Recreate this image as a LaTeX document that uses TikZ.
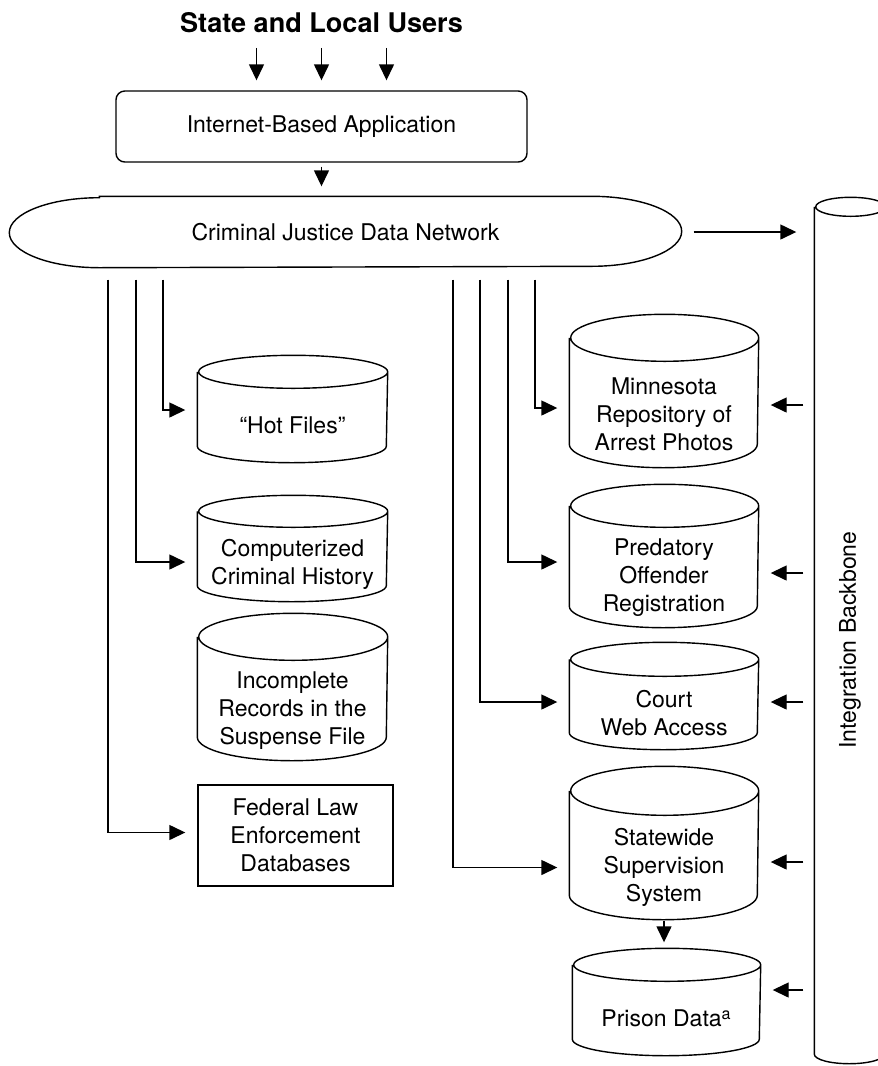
\documentclass[tikz,border=0pt]{standalone}
\usepackage{fontspec}
\setmainfont{TeX Gyre Heros}
\usetikzlibrary{arrows.meta}

% cylinder drawn round a node: #1 node, #2 x radius, #3 cap radius
\newcommand\dbshape[3]{%
  \draw ([yshift=#3]#1.north west) -- ([yshift=#3]#1.south west)
    arc[start angle=180, end angle=360, x radius=#2, y radius=#3]
    -- ([yshift=#3]#1.north east)
    arc[start angle=0, end angle=360, x radius=#2, y radius=#3];
}

\begin{document}
\begin{tikzpicture}[
 every node/.style={font=\fontsize{13.1}{15.8}\selectfont, align=center},
 line width=0.8pt,
 box/.style={rectangle, draw, inner sep=2pt},
 appbox/.style={box, rounded corners=5pt, minimum width=8.22cm, minimum height=1.42cm},
 db/.style={rectangle, inner sep=2pt, minimum width=3.78cm},
 arr/.style={->, >={Triangle[length=0.32cm, width=0.3cm]}, shorten >=0.24cm},
 feed/.style={arr, shorten <=0.24cm},
]
\useasboundingbox (0,0) rectangle (17.54,-21.32);

% users and entry point
\node[font=\fontsize{15.4}{18}\selectfont\bfseries, inner sep=0pt] (users) at (6.43,-0.45) {State and Local Users};
\node[appbox] (app) at (6.43,-2.53) {Internet-Based Application};
\node[minimum width=13.42cm, minimum height=1.40cm] (net) at (6.91,-4.64) {Criminal Justice Data Network};
\draw ([xshift=1.8cm]net.north west) -- ([xshift=-1.8cm]net.north east)
  arc[start angle=90, end angle=-90, x radius=1.8cm, y radius=0.7cm]
  -- ([xshift=1.8cm]net.south west)
  arc[start angle=270, end angle=90, x radius=1.8cm, y radius=0.7cm] -- cycle;

% backbone
\node[minimum width=1.4cm, minimum height=16.92cm, inner sep=0pt] (bb) at (17.0,-12.8) {\rotatebox{90}{Integration Backbone}};
\dbshape{bb}{0.7cm}{0.19cm}

% left column
\node[db, minimum height=1.46cm] (hot) at (5.85,-8.51) {“Hot Files”};
\node[db, minimum height=1.46cm] (cch) at (5.85,-11.29) {Computerized\\Criminal History};
\node[db, minimum height=1.98cm] (susp) at (5.85,-14.21) {Incomplete\\Records in the\\Suspense File};
\node[box, minimum width=3.9cm, minimum height=2.02cm] (fed) at (5.91,-16.71) {Federal Law\\Enforcement\\Databases};
\dbshape{hot}{1.89cm}{0.33cm}
\dbshape{cch}{1.89cm}{0.32cm}
\dbshape{susp}{1.89cm}{0.47cm}

% right column
\node[db, minimum width=3.76cm, minimum height=2.1cm] (photos) at (13.28,-8.29) {Minnesota\\Repository of\\Arrest Photos};
\node[db, minimum width=3.76cm, minimum height=1.98cm] (pred) at (13.28,-11.55) {Predatory\\Offender\\Registration};
\node[db, minimum width=3.76cm, minimum height=1.44cm] (court) at (13.28,-14.26) {Court\\Web Access};
\node[db, minimum width=3.76cm, minimum height=2.06cm] (sss) at (13.28,-17.35) {Statewide\\Supervision\\System};
\node[db, minimum width=3.74cm, minimum height=1.46cm] (prison) at (13.33,-20.37) {Prison Data\textsuperscript{a}};
\dbshape{photos}{1.88cm}{0.47cm}
\dbshape{pred}{1.88cm}{0.43cm}
\dbshape{court}{1.88cm}{0.34cm}
\dbshape{sss}{1.88cm}{0.49cm}
\dbshape{prison}{1.87cm}{0.33cm}

% top arrows
\foreach \dx in {-1.3,0,1.3}
  \draw[arr, shorten <=0.29cm, shorten >=0.2cm] ([xshift=\dx cm]users.south) -- ([xshift=\dx cm]app.north);
\draw[arr, shorten <=0.08cm, shorten >=0.2cm] (app.south) -- (app.south |- net.north);
\draw[feed, shorten >=0.36cm] (net.east) -- (net.east -| bb.west);

% network to the stores
\draw[feed] ([xshift=-3.65cm]net.south) |- ([yshift=0.31cm]hot.west);
\draw[feed] ([xshift=-4.19cm]net.south) |- ([yshift=0.05cm]cch.west);
\draw[feed] ([xshift=-4.75cm]net.south) |- ([yshift=0.06cm]fed.west);
\draw[feed] ([xshift=3.79cm]net.south) |- ([yshift=0.13cm]photos.west);
\draw[feed] ([xshift=3.25cm]net.south) |- ([yshift=0.31cm]pred.west);
\draw[feed] ([xshift=2.69cm]net.south) |- ([yshift=0.22cm]court.west);
\draw[feed] ([xshift=2.15cm]net.south) |- (sss.west);
\draw[arr, shorten <=0.02cm, shorten >=0.12cm] (sss.south) -- ([yshift=0.66cm]sss.south |- prison.north);

% backbone to the stores
\draw[feed, shorten <=0.22cm] ([yshift=0.19cm]photos.east -| bb.west) -- ([yshift=0.19cm]photos.east);
\draw[feed, shorten <=0.22cm] ([yshift=0.09cm]pred.east -| bb.west) -- ([yshift=0.09cm]pred.east);
\draw[feed, shorten <=0.22cm] ([yshift=0.22cm]court.east -| bb.west) -- ([yshift=0.22cm]court.east);
\draw[feed, shorten <=0.22cm] ([yshift=0.11cm]sss.east -| bb.west) -- ([yshift=0.11cm]sss.east);
\draw[feed, shorten <=0.22cm] ([yshift=0.57cm]prison.east -| bb.west) -- ([yshift=0.57cm]prison.east);
\end{tikzpicture}
\end{document}
